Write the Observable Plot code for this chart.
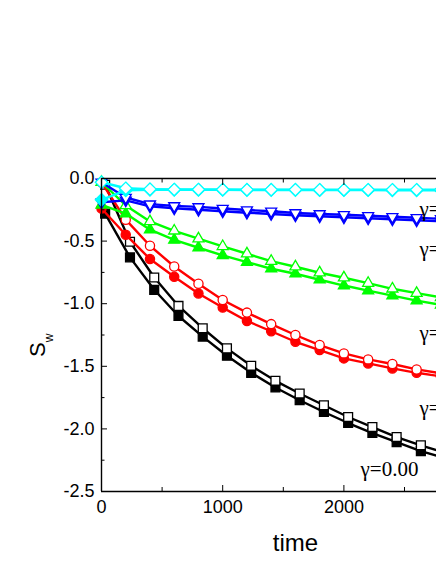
<!DOCTYPE html>
<html>
<head>
<meta charset="utf-8">
<script src="https://cdn.jsdelivr.net/npm/d3@7"></script>
<script src="https://cdn.jsdelivr.net/npm/@observablehq/plot@0.6"></script>
<style>
  html, body { margin: 0; padding: 0; background: white; overflow: hidden; }
</style>
</head>
<body>
<script>
// ---- data ----
const times      = [0, 200, 400, 600, 800, 1000, 1200, 1400, 1600, 1800, 2000, 2200, 2400, 2600, 2800];
const blackTimes = [30, 235, 435, 635, 835, 1035, 1235, 1435, 1635, 1835, 2035, 2235, 2435, 2635, 2835];

const cyanOpen    = [-0.03, -0.078, -0.085, -0.088, -0.088, -0.088, -0.089, -0.089, -0.089, -0.09, -0.09, -0.09, -0.09, -0.09, -0.09];
const cyanFilled  = [-0.17, -0.095, -0.09, -0.09, -0.091, -0.091, -0.092, -0.092, -0.092, -0.093, -0.093, -0.093, -0.094, -0.094, -0.094];
const blueOpen    = [-0.03, -0.152, -0.205, -0.219, -0.227, -0.24, -0.252, -0.262, -0.275, -0.283, -0.29, -0.298, -0.306, -0.314, -0.322];
const blueFilled  = [-0.19, -0.175, -0.222, -0.238, -0.25, -0.262, -0.273, -0.283, -0.294, -0.302, -0.31, -0.318, -0.326, -0.334, -0.342];
const greenOpen   = [-0.03, -0.215, -0.343, -0.418, -0.481, -0.542, -0.601, -0.66, -0.705, -0.753, -0.793, -0.836, -0.881, -0.916, -0.95];
const greenFilled = [-0.21, -0.28, -0.409, -0.491, -0.553, -0.614, -0.668, -0.721, -0.761, -0.809, -0.855, -0.895, -0.935, -0.975, -1.01];
const redOpen     = [-0.03, -0.329, -0.537, -0.703, -0.841, -0.97, -1.071, -1.163, -1.25, -1.33, -1.397, -1.445, -1.482, -1.525, -1.555];
const redFilled   = [-0.24, -0.449, -0.643, -0.785, -0.918, -1.031, -1.138, -1.22, -1.304, -1.37, -1.437, -1.477, -1.517, -1.552, -1.58];
const blackOpen   = [-0.05, -0.505, -0.791, -1.018, -1.196, -1.357, -1.496, -1.616, -1.717, -1.811, -1.905, -1.985, -2.065, -2.131, -2.19];
const blackFilled = [-0.28, -0.63, -0.889, -1.098, -1.263, -1.416, -1.552, -1.669, -1.771, -1.865, -1.953, -2.033, -2.105, -2.177, -2.235];

const yMajor = [0, -0.5, -1.0, -1.5, -2.0, -2.5];
const yMinor = [-0.25, -0.75, -1.25, -1.75, -2.25];
const xMajor = [0, 1000, 2000];
const xMinor = [500, 1500, 2500];

const labelText  = ["γ=1.00", "γ=0.50", "γ=0.20", "γ=0.10", "γ=0.00"];
const labelTime  = [2624, 2624, 2624, 2624, 2137];
const labelValue = [-0.303, -0.623, -1.286, -1.885, -2.38];

// ---- series definitions (styles kept in code) ----
const groups = [
  {name: "black", color: "#000000", symbol: "square",   r: 5.0, rotate: 0,   t: blackTimes, open: blackOpen, filled: blackFilled},
  {name: "red",   color: "#ff0000", symbol: "circle",   r: 4.6, rotate: 0,   t: times, open: redOpen,   filled: redFilled},
  {name: "green", color: "#00ff00", symbol: "triangle", r: 4.1, rotate: 0,   t: times, open: greenOpen, filled: greenFilled},
  {name: "blue",  color: "#0000ff", symbol: "triangle", r: 4.1, rotate: 180, t: times, open: blueOpen,  filled: blueFilled},
  {name: "cyan",  color: "#00ffff", symbol: "diamond2", r: 5.6, rotate: 0,   t: times, open: cyanOpen,  filled: cyanFilled}
];

const seriesMarks = [];
for (const g of groups) {
  for (const kind of ["filled", "open"]) {
    const rows = g[kind].map((v, i) => ({t: g.t[i], v}));
    seriesMarks.push(Plot.line(rows, {x: "t", y: "v", stroke: g.color, strokeWidth: 2.4}));
    seriesMarks.push(Plot.dot(rows, {
      x: "t", y: "v", symbol: g.symbol, r: g.r, rotate: g.rotate,
      fill: kind === "filled" ? g.color : "white",
      stroke: g.color, strokeWidth: 1.3
    }));
  }
}

const labels = labelText.map((s, i) => ({s, t: labelTime[i], v: labelValue[i]}));

const chart = Plot.plot({
  width: 436,
  height: 564,
  marginTop: 178,
  marginBottom: 73,
  marginLeft: 101,
  marginRight: 0,
  x: {domain: [0, 2764]},
  y: {domain: [-2.5, 0]},
  style: {fontFamily: "'Liberation Sans', Arial, sans-serif", fontSize: "18px", color: "black", background: "white"},
  marks: [
    ...seriesMarks,
    Plot.text(labels, {x: "t", y: "v", text: "s", textAnchor: "start", lineAnchor: "bottom",
      fontFamily: "'Liberation Serif', 'Times New Roman', serif", fontSize: 21, fill: "black"}),
    Plot.ruleX([0], {stroke: "black", strokeWidth: 1.4}),
    Plot.ruleY([-2.5], {stroke: "black", strokeWidth: 1.4}),
    Plot.ruleY([0], {stroke: "black", strokeWidth: 1.4}),
    Plot.axisY({ticks: yMajor, anchor: "left", tickSize: -6, tickPadding: 13, tickFormat: d => d.toFixed(1), label: null, fontSize: 18}),
    Plot.axisY({ticks: yMinor, anchor: "left", tickSize: -3.5, fill: "none", label: null}),
    Plot.axisX({ticks: xMajor, anchor: "bottom", tickSize: -6, tickPadding: 15, tickFormat: d => String(d), label: null, fontSize: 18}),
    Plot.axisX({ticks: xMinor, anchor: "bottom", tickSize: -4, fill: "none", label: null}),
    Plot.axisX({ticks: xMajor, anchor: "top", tickSize: -6, fill: "none", label: null}),
    Plot.axisX({ticks: xMinor, anchor: "top", tickSize: -3.5, fill: "none", label: null}),
    Plot.text(["time"], {text: d => d, frameAnchor: "bottom", dx: 26.5, dy: 59, lineAnchor: "bottom", fontSize: 24, fill: "black"})
  ]
});

document.body.appendChild(chart);

// y-axis title S_w
const svg = d3.select(chart);
const yl = svg.append("text")
  .attr("transform", "translate(45,357) rotate(-90)")
  .attr("text-anchor", "start")
  .attr("fill", "black")
  .attr("font-family", "'Liberation Sans', Arial, sans-serif");
yl.append("tspan").attr("font-size", 22).text("S");
yl.append("tspan").attr("font-size", 12).attr("dy", 8).text("w");
</script>
</body>
</html>
